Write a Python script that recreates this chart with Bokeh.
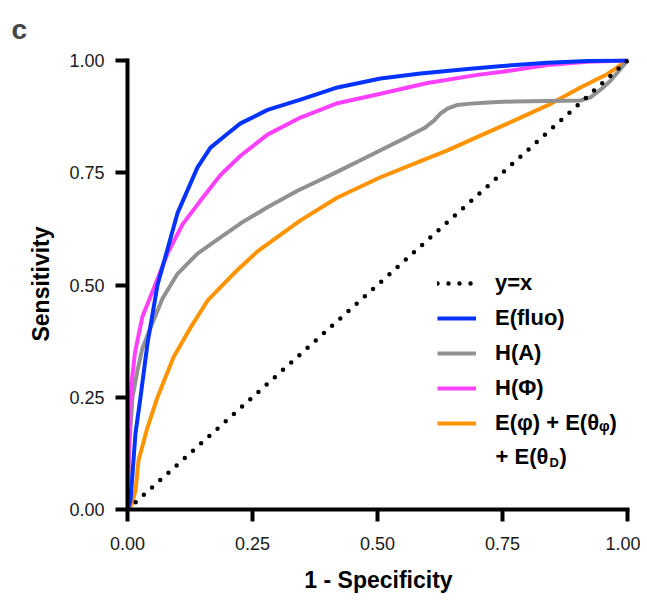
from bokeh.plotting import figure
from bokeh.models import (Legend, LegendItem, Label, Range1d, FixedTicker,
                          NumeralTickFormatter)
from bokeh.embed import file_html
from bokeh.resources import INLINE

# ---- data ----
diag_x = [0.0, 1.0]
diag_y = [0.0, 1.0]

fluo_x = [0, 0.006, 0.016, 0.026, 0.04, 0.06, 0.1, 0.14, 0.166, 0.2, 0.226, 0.28,
          0.346, 0.42, 0.506, 0.586, 0.68, 0.75, 0.84, 0.92, 1.0]
fluo_y = [0, 0.02, 0.17, 0.25, 0.37, 0.5, 0.66, 0.762, 0.806, 0.837, 0.86, 0.89,
          0.913, 0.94, 0.96, 0.971, 0.981, 0.988, 0.995, 0.999, 1.0]

hphi_x = [0, 0.002, 0.004, 0.008, 0.015, 0.03, 0.053, 0.08, 0.11, 0.146, 0.186,
          0.226, 0.28, 0.346, 0.42, 0.506, 0.6, 0.7, 0.75, 0.84, 0.92, 1.0]
hphi_y = [0, 0.1, 0.2, 0.28, 0.35, 0.43, 0.494, 0.57, 0.635, 0.688, 0.745,
          0.788, 0.835, 0.873, 0.905, 0.926, 0.95, 0.968, 0.975, 0.99, 0.997, 1.0]

ha_x = [0, 0.004, 0.01, 0.02, 0.03, 0.046, 0.07, 0.1, 0.14, 0.186, 0.23, 0.28,
        0.34, 0.412, 0.47, 0.506, 0.56, 0.593, 0.613, 0.626, 0.64, 0.66, 0.686,
        0.73, 0.773, 0.84, 0.906, 0.926, 0.946, 0.966, 0.985, 1.0]
ha_y = [0, 0.15, 0.25, 0.31, 0.36, 0.405, 0.47, 0.525, 0.57, 0.606, 0.64, 0.673,
        0.71, 0.748, 0.78, 0.8, 0.83, 0.849, 0.866, 0.882, 0.893, 0.901, 0.904,
        0.907, 0.909, 0.91, 0.911, 0.918, 0.935, 0.955, 0.98, 1.0]

comb_x = [0, 0.008, 0.016, 0.022, 0.04, 0.06, 0.092, 0.126, 0.16, 0.212, 0.26,
          0.346, 0.42, 0.506, 0.58, 0.64, 0.7, 0.773, 0.84, 0.906, 0.96, 1.0]
comb_y = [0, 0.01, 0.042, 0.109, 0.183, 0.25, 0.339, 0.405, 0.465, 0.525, 0.575,
          0.644, 0.695, 0.74, 0.773, 0.8, 0.83, 0.866, 0.9, 0.94, 0.97, 1.0]

ticks = [0.0, 0.25, 0.5, 0.75, 1.0]

FONT = "Liberation Sans"
BLUE = "#0433FF"
MAGENTA = "#FF40FF"
GRAY = "#919191"
ORANGE = "#FF9300"

p = figure(width=640, height=600, output_backend="svg", toolbar_location=None,
           x_range=Range1d(0, 1.004), y_range=Range1d(0, 1.0045),
           min_border_left=127, min_border_right=11, min_border_top=58,
           min_border_bottom=91)
p.outline_line_color = None
p.grid.visible = False
p.background_fill_color = "white"

p.title.text = "c"
p.title.text_font = FONT
p.title.text_font_size = "28px"
p.title.text_font_style = "bold"
p.title.align = "left"
p.title.vertical_align = "top"
p.title.offset = -116
p.title.standoff = 23

p.xaxis.axis_label = "1 - Specificity"
p.yaxis.axis_label = "Sensitivity"
for ax in (p.xaxis[0], p.yaxis[0]):
    ax.ticker = FixedTicker(ticks=ticks)
    ax.formatter = NumeralTickFormatter(format="0.00")
    ax.axis_line_width = 4
    ax.axis_line_color = "black"
    ax.major_tick_line_width = 4
    ax.major_tick_line_color = "black"
    ax.major_tick_out = 12
    ax.major_tick_in = 0
    ax.minor_tick_line_color = None
    ax.major_label_text_font = FONT
    ax.major_label_text_font_size = "18px"
    ax.major_label_text_color = "#1a1a1a"
    ax.axis_label_text_font = FONT
    ax.axis_label_text_font_style = "bold"
    ax.axis_label_text_font_size = "23px"
    ax.axis_label_text_color = "black"
p.xaxis.major_label_standoff = 15
p.xaxis.axis_label_standoff = 14
p.yaxis.major_label_standoff = 11
p.yaxis.axis_label_standoff = 12

r_comb = p.line(comb_x, comb_y, line_color=ORANGE, line_width=4)
r_ha = p.line(ha_x, ha_y, line_color=GRAY, line_width=4)
r_hphi = p.line(hphi_x, hphi_y, line_color=MAGENTA, line_width=4)
r_fluo = p.line(fluo_x, fluo_y, line_color=BLUE, line_width=4)
r_diag = p.line(diag_x, diag_y, line_color="black", line_width=4.5,
                line_dash="0 11", line_cap="round")

legend = Legend(items=[
    LegendItem(label="y=x", renderers=[r_diag]),
    LegendItem(label="E(fluo)", renderers=[r_fluo]),
    LegendItem(label="H(A)", renderers=[r_ha]),
    LegendItem(label="H(Φ)", renderers=[r_hphi]),
    LegendItem(label="E(φ) + E(θᵩ)", renderers=[r_comb]),
], location=(310, 73))
legend.label_text_font = FONT
legend.label_text_font_size = "22px"
legend.label_text_font_style = "bold"
legend.label_text_color = "black"
legend.glyph_width = 39
legend.glyph_height = 24
legend.label_height = 24
legend.label_standoff = 19
legend.spacing = 9
legend.padding = 0
legend.margin = 0
legend.border_line_color = None
legend.background_fill_alpha = 0
p.add_layout(legend)

# second line of the last legend entry, with subscript D
ly = (509 - 456) / 449.0
lx = 0.736
p.add_layout(Label(x=lx, y=ly, text="+ E(θ", text_font=FONT, text_font_size="22px",
                   text_font_style="bold", text_baseline="middle", text_color="black"))
p.add_layout(Label(x=lx, y=ly, x_offset=54, y_offset=-6, text="D", text_font=FONT,
                   text_font_size="13px", text_font_style="bold",
                   text_baseline="middle", text_color="black"))
p.add_layout(Label(x=lx, y=ly, x_offset=64, text=")", text_font=FONT,
                   text_font_size="22px", text_font_style="bold",
                   text_baseline="middle", text_color="black"))

open("out.html", "w").write(file_html(p, INLINE))
